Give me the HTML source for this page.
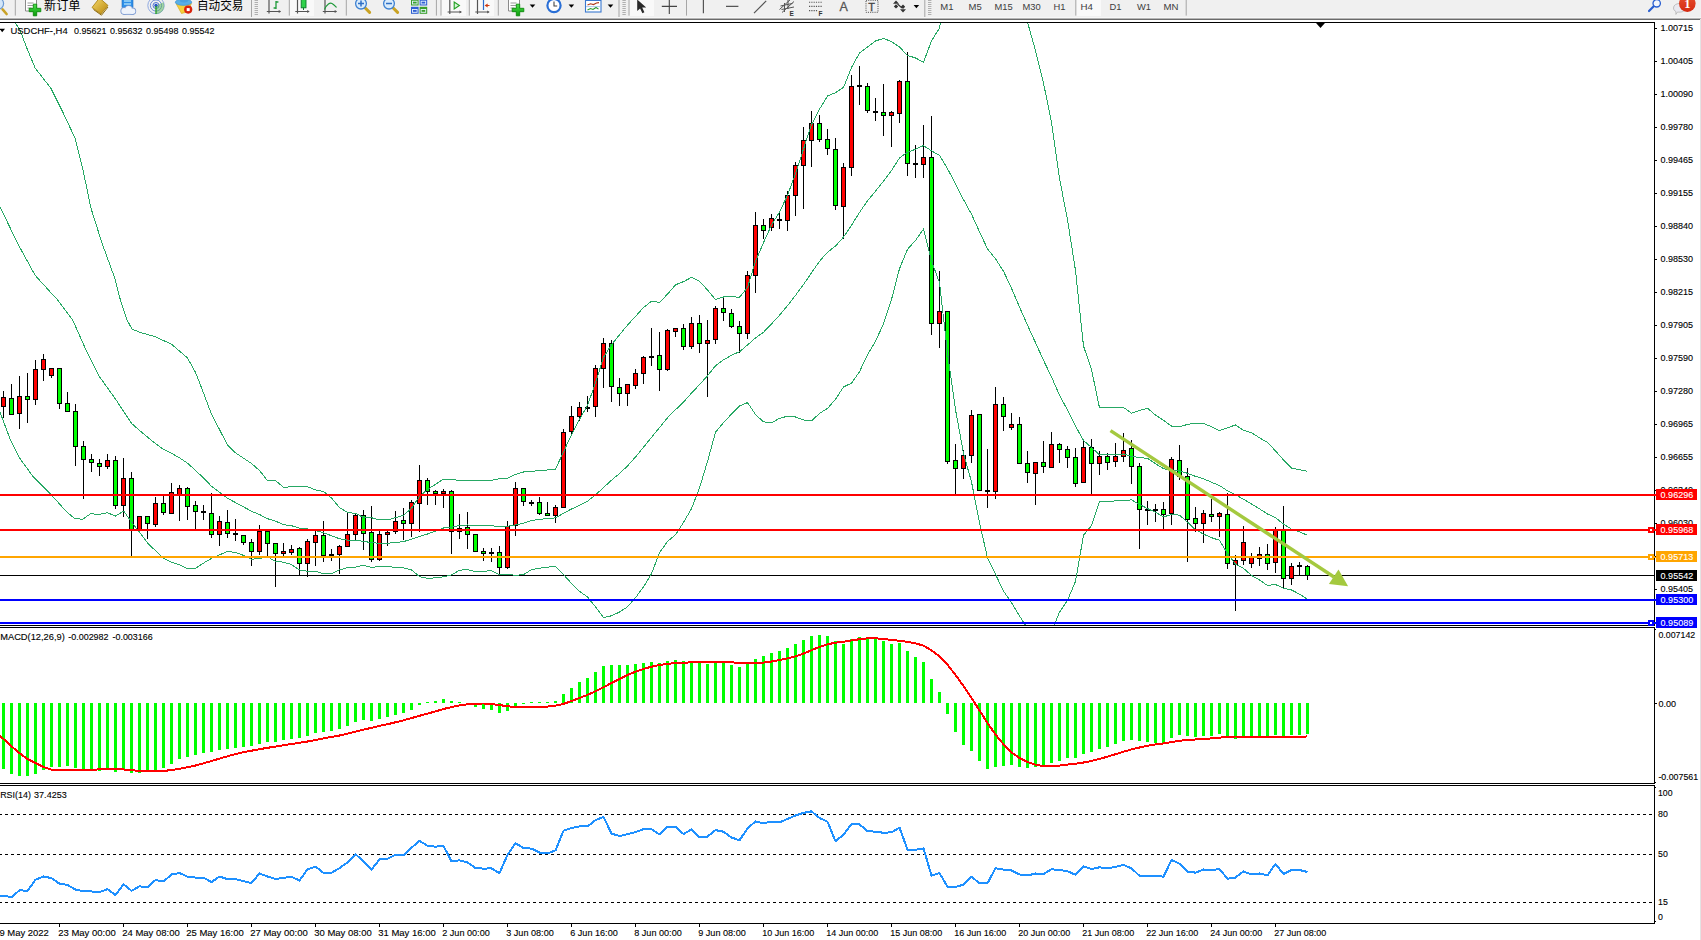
<!DOCTYPE html>
<html><head><meta charset="utf-8"><title>USDCHF-,H4</title>
<style>
html,body{margin:0;padding:0;background:#fff;}
body{width:1701px;height:940px;position:relative;overflow:hidden;font-family:"Liberation Sans","Noto Sans CJK SC",sans-serif;}
svg{display:block}
</style></head><body>
<svg width="1701" height="940" viewBox="0 0 1701 940" style="position:absolute;left:0;top:0" font-family="'Liberation Sans',sans-serif" font-size="9.6">
<defs><clipPath id="cm"><rect x="0" y="23" width="1654" height="602"/></clipPath></defs>
<g shape-rendering="crispEdges">
<rect x="0" y="575" width="1654" height="1" fill="#000"/>
<g clip-path="url(#cm)">
<path d="M3 391h1v27h-1zM1 397h5v10h-5zM11 384h1v31h-1zM9 398h5v17h-5zM19 376h1v53h-1zM17 396h5v18h-5zM27 373h1v50h-1zM25 396h5v4h-5zM35 360h1v45h-1zM33 369h5v31h-5zM43 354h1v27h-1zM41 359h5v11h-5zM51 368h1v10h-1zM49 368h5v8h-5zM59 368h1v41h-1zM57 368h5v36h-5zM67 392h1v20h-1zM65 403h5v9h-5zM75 404h1v62h-1zM73 411h5v36h-5zM83 441h1v58h-1zM81 446h5v14h-5zM91 454h1v18h-1zM89 459h5v4h-5zM99 459h1v17h-1zM97 463h5v4h-5zM107 454h1v15h-1zM105 460h5v7h-5zM115 456h1v53h-1zM113 460h5v46h-5zM123 458h1v59h-1zM121 478h5v28h-5zM131 472h1v84h-1zM129 478h5v52h-5zM139 516h1v17h-1zM137 516h5v14h-5zM147 516h1v23h-1zM145 516h5v8h-5zM155 497h1v30h-1zM153 503h5v22h-5zM163 496h1v19h-1zM161 503h5v10h-5zM171 483h1v31h-1zM169 492h5v22h-5zM179 485h1v36h-1zM177 488h5v7h-5zM187 487h1v33h-1zM185 488h5v19h-5zM195 501h1v28h-1zM193 505h5v7h-5zM203 505h1v15h-1zM201 511h5v2h-5zM211 493h1v45h-1zM209 513h5v22h-5zM219 516h1v30h-1zM217 521h5v14h-5zM227 510h1v28h-1zM225 522h5v12h-5zM235 519h1v22h-1zM233 533h5v2h-5zM243 535h1v10h-1zM241 535h5v8h-5zM251 539h1v27h-1zM249 542h5v10h-5zM259 525h1v30h-1zM257 531h5v21h-5zM267 531h1v25h-1zM265 531h5v13h-5zM275 543h1v44h-1zM273 543h5v11h-5zM283 543h1v13h-1zM281 551h5v3h-5zM291 545h1v10h-1zM289 549h5v4h-5zM299 547h1v29h-1zM297 548h5v16h-5zM307 539h1v38h-1zM305 541h5v23h-5zM315 531h1v35h-1zM313 535h5v8h-5zM323 521h1v41h-1zM321 535h5v21h-5zM331 549h1v12h-1zM329 554h5v2h-5zM339 545h1v29h-1zM337 546h5v9h-5zM347 513h1v34h-1zM345 534h5v13h-5zM355 513h1v28h-1zM353 515h5v20h-5zM363 510h1v40h-1zM361 515h5v19h-5zM371 506h1v56h-1zM369 532h5v28h-5zM379 531h1v30h-1zM377 534h5v26h-5zM387 531h1v15h-1zM385 532h5v3h-5zM395 511h1v23h-1zM393 521h5v11h-5zM403 508h1v32h-1zM401 520h5v4h-5zM411 500h1v37h-1zM409 502h5v22h-5zM419 465h1v67h-1zM417 480h5v24h-5zM427 478h1v27h-1zM425 480h5v12h-5zM435 490h1v15h-1zM433 491h5v3h-5zM443 489h1v19h-1zM441 491h5v3h-5zM451 490h1v64h-1zM449 491h5v41h-5zM459 514h1v25h-1zM457 528h5v4h-5zM467 512h1v37h-1zM465 527h5v8h-5zM475 534h1v18h-1zM473 534h5v18h-5zM483 548h1v13h-1zM481 551h5v3h-5zM491 548h1v14h-1zM489 552h5v2h-5zM499 546h1v29h-1zM497 552h5v16h-5zM507 521h1v48h-1zM505 526h5v42h-5zM515 482h1v54h-1zM513 488h5v38h-5zM523 488h1v18h-1zM521 488h5v14h-5zM531 500h1v6h-1zM529 502h5v2h-5zM539 497h1v18h-1zM537 502h5v12h-5zM547 502h1v14h-1zM545 513h5v3h-5zM555 505h1v18h-1zM553 507h5v9h-5zM563 429h1v79h-1zM561 432h5v76h-5zM571 406h1v28h-1zM569 416h5v16h-5zM579 402h1v19h-1zM577 407h5v10h-5zM587 396h1v16h-1zM585 407h5v2h-5zM595 365h1v52h-1zM593 368h5v39h-5zM603 338h1v50h-1zM601 343h5v26h-5zM611 340h1v62h-1zM609 343h5v44h-5zM619 378h1v28h-1zM617 387h5v7h-5zM627 384h1v22h-1zM625 384h5v10h-5zM635 369h1v20h-1zM633 373h5v13h-5zM643 356h1v28h-1zM641 357h5v17h-5zM651 328h1v38h-1zM649 356h5v2h-5zM659 332h1v59h-1zM657 355h5v15h-5zM667 329h1v42h-1zM665 330h5v40h-5zM675 328h1v9h-1zM673 328h5v4h-5zM683 324h1v26h-1zM681 328h5v19h-5zM691 317h1v32h-1zM689 323h5v24h-5zM699 315h1v38h-1zM697 323h5v21h-5zM707 320h1v77h-1zM705 340h5v4h-5zM715 306h1v38h-1zM713 308h5v32h-5zM723 297h1v24h-1zM721 308h5v5h-5zM731 309h1v19h-1zM729 313h5v14h-5zM739 321h1v32h-1zM737 326h5v8h-5zM747 271h1v68h-1zM745 275h5v59h-5zM755 212h1v81h-1zM753 225h5v51h-5zM763 219h1v20h-1zM761 225h5v6h-5zM771 214h1v17h-1zM769 218h5v10h-5zM779 213h1v16h-1zM777 219h5v2h-5zM787 191h1v40h-1zM785 195h5v26h-5zM795 162h1v54h-1zM793 165h5v31h-5zM803 127h1v82h-1zM801 140h5v26h-5zM811 111h1v56h-1zM809 123h5v18h-5zM819 115h1v27h-1zM817 123h5v17h-5zM827 129h1v26h-1zM825 139h5v10h-5zM835 138h1v72h-1zM833 149h5v57h-5zM843 163h1v76h-1zM841 167h5v40h-5zM851 75h1v101h-1zM849 86h5v82h-5zM859 66h1v39h-1zM857 85h5v2h-5zM867 83h1v30h-1zM865 86h5v25h-5zM875 98h1v23h-1zM873 111h5v2h-5zM883 84h1v52h-1zM881 112h5v4h-5zM891 111h1v36h-1zM889 112h5v4h-5zM899 80h1v43h-1zM897 81h5v33h-5zM907 52h1v124h-1zM905 81h5v83h-5zM915 145h1v33h-1zM913 163h5v2h-5zM923 125h1v53h-1zM921 157h5v8h-5zM931 116h1v219h-1zM929 157h5v167h-5zM939 271h1v77h-1zM937 311h5v13h-5zM947 311h1v153h-1zM945 311h5v151h-5zM955 444h1v50h-1zM953 460h5v9h-5zM963 450h1v29h-1zM961 455h5v14h-5zM971 410h1v53h-1zM969 415h5v41h-5zM979 414h1v77h-1zM977 414h5v77h-5zM987 449h1v59h-1zM985 490h5v2h-5zM995 387h1v112h-1zM993 404h5v88h-5zM1003 397h1v34h-1zM1001 404h5v13h-5zM1011 413h1v17h-1zM1009 424h5v4h-5zM1019 417h1v47h-1zM1017 424h5v40h-5zM1027 451h1v32h-1zM1025 463h5v10h-5zM1035 462h1v43h-1zM1033 462h5v12h-5zM1043 441h1v32h-1zM1041 462h5v5h-5zM1051 432h1v36h-1zM1049 444h5v24h-5zM1059 443h1v20h-1zM1057 444h5v6h-5zM1067 446h1v22h-1zM1065 449h5v9h-5zM1075 448h1v39h-1zM1073 457h5v27h-5zM1083 439h1v44h-1zM1081 447h5v36h-5zM1091 439h1v55h-1zM1089 447h5v17h-5zM1099 451h1v24h-1zM1097 456h5v8h-5zM1107 453h1v17h-1zM1105 456h5v7h-5zM1115 443h1v24h-1zM1113 456h5v6h-5zM1123 433h1v29h-1zM1121 450h5v7h-5zM1131 440h1v44h-1zM1129 448h5v19h-5zM1139 463h1v86h-1zM1137 466h5v44h-5zM1147 501h1v24h-1zM1145 509h5v2h-5zM1155 504h1v18h-1zM1153 509h5v2h-5zM1163 502h1v27h-1zM1161 509h5v6h-5zM1171 457h1v68h-1zM1169 459h5v55h-5zM1179 445h1v35h-1zM1177 460h5v17h-5zM1187 468h1v94h-1zM1185 476h5v44h-5zM1195 507h1v25h-1zM1193 518h5v6h-5zM1203 510h1v33h-1zM1201 513h5v11h-5zM1211 499h1v23h-1zM1209 514h5v3h-5zM1219 512h1v25h-1zM1217 513h5v4h-5zM1227 493h1v76h-1zM1225 514h5v50h-5zM1235 555h1v56h-1zM1233 560h5v5h-5zM1243 526h1v39h-1zM1241 542h5v19h-5zM1251 553h1v15h-1zM1249 557h5v7h-5zM1259 547h1v19h-1zM1257 554h5v5h-5zM1267 544h1v26h-1zM1265 554h5v10h-5zM1275 527h1v46h-1zM1273 530h5v33h-5zM1283 506h1v83h-1zM1281 530h5v49h-5zM1291 563h1v22h-1zM1289 566h5v13h-5zM1299 562h1v14h-1zM1297 565h5v2h-5zM1307 565h1v15h-1zM1305 566h5v10h-5z" fill="#000"/>
<path d="M2 398h3v8h-3zM18 397h3v16h-3zM34 370h3v29h-3zM42 360h3v9h-3zM50 369h3v6h-3zM106 461h3v5h-3zM122 479h3v26h-3zM138 517h3v12h-3zM154 504h3v20h-3zM170 493h3v20h-3zM178 489h3v5h-3zM218 522h3v12h-3zM258 532h3v19h-3zM282 552h3v1h-3zM290 550h3v2h-3zM306 542h3v21h-3zM314 536h3v6h-3zM338 547h3v7h-3zM346 535h3v11h-3zM354 516h3v18h-3zM378 535h3v24h-3zM386 533h3v1h-3zM394 522h3v9h-3zM410 503h3v20h-3zM418 481h3v22h-3zM442 492h3v1h-3zM458 529h3v2h-3zM506 527h3v40h-3zM514 489h3v36h-3zM554 508h3v7h-3zM562 433h3v74h-3zM570 417h3v14h-3zM578 408h3v8h-3zM594 369h3v37h-3zM602 344h3v24h-3zM626 385h3v8h-3zM634 374h3v11h-3zM642 358h3v15h-3zM666 331h3v38h-3zM674 329h3v2h-3zM690 324h3v22h-3zM706 341h3v2h-3zM714 309h3v30h-3zM746 276h3v57h-3zM754 226h3v49h-3zM770 219h3v8h-3zM786 196h3v24h-3zM794 166h3v29h-3zM802 141h3v24h-3zM810 124h3v16h-3zM842 168h3v38h-3zM850 87h3v80h-3zM890 113h3v2h-3zM898 82h3v31h-3zM922 158h3v6h-3zM938 312h3v11h-3zM962 456h3v12h-3zM970 416h3v39h-3zM994 405h3v86h-3zM1010 425h3v2h-3zM1034 463h3v10h-3zM1050 445h3v22h-3zM1082 448h3v34h-3zM1098 457h3v6h-3zM1114 457h3v4h-3zM1122 451h3v5h-3zM1170 460h3v53h-3zM1202 514h3v9h-3zM1218 514h3v2h-3zM1234 561h3v3h-3zM1242 543h3v17h-3zM1250 558h3v5h-3zM1258 555h3v3h-3zM1274 531h3v31h-3zM1290 567h3v11h-3z" fill="#f00"/>
<path d="M10 399h3v15h-3zM26 397h3v2h-3zM58 369h3v34h-3zM66 404h3v7h-3zM74 412h3v34h-3zM82 447h3v12h-3zM90 460h3v2h-3zM98 464h3v2h-3zM114 461h3v44h-3zM130 479h3v50h-3zM146 517h3v6h-3zM162 504h3v8h-3zM186 489h3v17h-3zM194 506h3v5h-3zM210 514h3v20h-3zM226 523h3v10h-3zM242 536h3v6h-3zM250 543h3v8h-3zM266 532h3v11h-3zM274 544h3v9h-3zM298 549h3v14h-3zM322 536h3v19h-3zM362 516h3v17h-3zM370 533h3v26h-3zM402 521h3v2h-3zM426 481h3v10h-3zM434 492h3v1h-3zM450 492h3v39h-3zM466 528h3v6h-3zM474 535h3v16h-3zM482 552h3v1h-3zM498 553h3v14h-3zM522 489h3v12h-3zM538 503h3v10h-3zM546 514h3v1h-3zM610 344h3v42h-3zM618 388h3v5h-3zM658 356h3v13h-3zM682 329h3v17h-3zM698 324h3v19h-3zM722 309h3v3h-3zM730 314h3v12h-3zM738 327h3v6h-3zM762 226h3v4h-3zM818 124h3v15h-3zM826 140h3v8h-3zM834 150h3v55h-3zM866 87h3v23h-3zM882 113h3v2h-3zM906 82h3v81h-3zM930 158h3v165h-3zM946 312h3v149h-3zM954 461h3v7h-3zM978 415h3v75h-3zM1002 405h3v11h-3zM1018 425h3v38h-3zM1026 464h3v8h-3zM1042 463h3v3h-3zM1058 445h3v4h-3zM1066 450h3v7h-3zM1074 458h3v25h-3zM1090 448h3v15h-3zM1106 457h3v5h-3zM1130 449h3v17h-3zM1138 467h3v42h-3zM1162 510h3v4h-3zM1178 461h3v15h-3zM1186 477h3v42h-3zM1194 519h3v4h-3zM1210 515h3v1h-3zM1226 515h3v48h-3zM1266 555h3v8h-3zM1282 531h3v47h-3zM1306 567h3v8h-3z" fill="#0f0"/>
<polyline points="10,12 15.3,23.2 19.8,29.6 27.1,48.7 35.1,67.9 51.1,88.6 63.8,114.2 75,138.1 83,170 91,208.3 102.1,243.4 114.9,278.5 120.4,300 127,319.8 131.9,329 141.8,333 155.5,336.6 163.5,340.6 171.5,344.2 179.5,351.1 187.5,357.9 195.5,372.4 203.5,392.9 211.5,414.3 219.5,429.5 227.5,445.1 235.5,452.9 243.5,458.2 251.5,463.4 259.5,470.5 267.5,480.6 275.5,480.6 283.5,487.3 291.5,486.8 299.5,486.1 307.5,486.7 315.5,489.9 323.5,491.5 331.5,498 339.5,507.6 347.5,512.5 355.5,513.4 363.5,517.5 371.5,517.7 379.5,520 387.5,519.9 395.5,517.7 403.5,515.4 411.5,508.3 419.5,496.5 427.5,489.5 435.5,484.3 443.5,479.2 451.5,479.3 459.5,480.5 467.5,480.6 475.5,480.1 483.5,480.2 491.5,480.4 499.5,478.7 507.5,478.4 515.5,474.4 523.5,472 531.5,471.3 539.5,470.6 547.5,470 555.5,469.1 563.5,452 571.5,434.6 579.5,419.4 587.5,405.4 595.5,382.9 603.5,357.4 611.5,344.7 619.5,334.8 627.5,325.1 635.5,316.4 643.5,307.5 651.5,301.3 659.5,302.3 667.5,294.2 675.5,284.8 683.5,281.6 691.5,277.4 699.5,281.2 707.5,290 715.5,299.5 723.5,297 731.5,296.6 739.5,297.3 747.5,287.5 755.5,261.3 763.5,242.6 771.5,225.1 779.5,212 787.5,195.3 795.5,173.7 803.5,149 811.5,124.6 819.5,109.2 827.5,96 835.5,92.7 843.5,87.4 851.5,67.4 859.5,53.1 867.5,47.1 875.5,40.9 883.5,38.5 891.5,41.5 899.5,47.1 907.5,55.4 915.5,58 923.5,62.2 931.5,40.8 939.5,28 947.5,-15.5 955.5,-42 963.5,-54.1 971.5,-53.5 979.5,-59.1 987.5,-60.1 995.5,-56.7 1003.5,-48.4 1011.5,-26.3 1019.5,-1.9 1027.5,22 1035.5,50.6 1043.5,83.1 1051.5,122.3 1059.5,178.4 1067.5,219.8 1075.5,270.6 1083.5,346 1091.5,369.4 1099.5,407.9 1107.5,407.9 1115.5,407.7 1123.5,407.4 1131.5,413.2 1139.5,410.5 1147.5,408.2 1155.5,415.1 1163.5,420.2 1171.5,426.1 1179.5,426.8 1187.5,424.4 1195.5,423.1 1203.5,423.3 1211.5,426.8 1219.5,430.6 1227.5,427.8 1235.5,424.9 1243.5,430.3 1251.5,432.7 1259.5,437.8 1267.5,442.4 1275.5,450.9 1283.5,459.9 1291.5,468.2 1299.5,469.7 1307.5,471.2" fill="none" stroke="#26a864" stroke-width="1"/>
<polyline points="0,206.7 17.6,243.4 35.1,275.3 51.1,292.9 57.7,300 72.6,319.8 85.8,349.5 98.9,375.9 115.4,398.9 131.9,423.7 145.1,435.2 155.5,443.6 163.5,449.4 171.5,453.3 179.5,457.9 187.5,463.2 195.5,470.4 203.5,478 211.5,486.3 219.5,492.2 227.5,498.3 235.5,502.6 243.5,506.8 251.5,511.3 259.5,514.5 267.5,518.7 275.5,521.1 283.5,524.7 291.5,525.7 299.5,528.1 307.5,529 315.5,530.6 323.5,532.7 331.5,535.8 339.5,538.7 347.5,540.1 355.5,540.3 363.5,541.4 371.5,542.6 379.5,543.3 387.5,543.2 395.5,542.6 403.5,541.6 411.5,539.2 419.5,536.6 427.5,534 435.5,531 443.5,528 451.5,527.1 459.5,525.4 467.5,525 475.5,525.8 483.5,525.7 491.5,525.6 499.5,526.7 507.5,526.2 515.5,524.9 523.5,523.3 531.5,520.5 539.5,519.4 547.5,518.6 555.5,517.9 563.5,513.3 571.5,509 579.5,505.4 587.5,501.2 595.5,494.9 603.5,487.5 611.5,480.2 619.5,473.5 627.5,466 635.5,457 643.5,447.2 651.5,437.4 659.5,427.6 667.5,417.8 675.5,409.8 683.5,402 691.5,393.1 699.5,384.6 707.5,375.8 715.5,365.8 723.5,359.8 731.5,355.3 739.5,351.7 747.5,345 755.5,337.9 763.5,332.3 771.5,323.9 779.5,315.2 787.5,305.7 795.5,295.4 803.5,284.5 811.5,272.8 819.5,261.3 827.5,252.2 835.5,246.1 843.5,237.1 851.5,225.3 859.5,212.4 867.5,200.9 875.5,191.1 883.5,181.2 891.5,170.5 899.5,157.9 907.5,152.3 915.5,149.2 923.5,145.6 931.5,150.8 939.5,155.4 947.5,168.7 955.5,183.8 963.5,199.6 971.5,214.2 979.5,231.8 987.5,248.9 995.5,258.8 1003.5,271.3 1011.5,288.2 1019.5,307.1 1027.5,325.2 1035.5,342.7 1043.5,360.3 1051.5,376.9 1059.5,395.3 1067.5,410 1075.5,426 1083.5,440.5 1091.5,447.5 1099.5,454.8 1107.5,454.9 1115.5,454.2 1123.5,454 1131.5,456.5 1139.5,457.5 1147.5,458.4 1155.5,463.7 1163.5,468.6 1171.5,470.3 1179.5,471 1187.5,473.3 1195.5,476.4 1203.5,478.7 1211.5,482.3 1219.5,485.5 1227.5,490.8 1235.5,494.6 1243.5,499.3 1251.5,504 1259.5,508.9 1267.5,514 1275.5,517.7 1283.5,524.1 1291.5,529.1 1299.5,531.9 1307.5,535.2" fill="none" stroke="#26a864" stroke-width="1"/>
<polyline points="0,412.1 9.9,438.5 19.8,458.3 33,476.5 49.5,492.9 66,511.1 74.2,518.3 82.5,519.3 90.7,513.7 98.9,514.4 107.2,512.7 115.4,516 123.7,511.1 130.3,520.3 138.5,530.9 148.4,544.1 155.5,550.6 163.5,558.2 171.5,562.4 179.5,564.7 187.5,568.6 195.5,568.3 203.5,563.1 211.5,558.4 219.5,554.9 227.5,551.5 235.5,552.4 243.5,555.4 251.5,559.2 259.5,558.5 267.5,556.7 275.5,561.5 283.5,562.1 291.5,564.6 299.5,570 307.5,571.2 315.5,571.2 323.5,573.9 331.5,573.7 339.5,569.9 347.5,567.7 355.5,567.2 363.5,565.2 371.5,567.5 379.5,566.5 387.5,566.5 395.5,567.4 403.5,567.8 411.5,570 419.5,576.6 427.5,578.4 435.5,577.8 443.5,576.8 451.5,574.9 459.5,570.2 467.5,569.5 475.5,571.6 483.5,571.2 491.5,570.8 499.5,574.6 507.5,574.1 515.5,575.4 523.5,574.6 531.5,569.7 539.5,568.3 547.5,567.1 555.5,566.6 563.5,574.6 571.5,583.4 579.5,591.3 587.5,597 595.5,606.9 603.5,617.6 611.5,615.8 619.5,612.1 627.5,606.8 635.5,597.7 643.5,587 651.5,573.6 659.5,552.8 667.5,541.4 675.5,534.8 683.5,522.4 691.5,508.7 699.5,487.9 707.5,461.5 715.5,432.2 723.5,422.7 731.5,414.1 739.5,406 747.5,402.6 755.5,414.5 763.5,421.9 771.5,422.7 779.5,418.4 787.5,416.2 795.5,417 803.5,420 811.5,421 819.5,413.4 827.5,408.4 835.5,399.4 843.5,386.9 851.5,383.2 859.5,371.7 867.5,354.7 875.5,341.2 883.5,323.9 891.5,299.5 899.5,268.7 907.5,249.3 915.5,240.4 923.5,229 931.5,260.9 939.5,282.7 947.5,352.8 955.5,409.7 963.5,453.3 971.5,481.9 979.5,522.6 987.5,557.9 995.5,574.3 1003.5,591 1011.5,602.7 1019.5,616 1027.5,628.3 1035.5,634.8 1043.5,637.5 1051.5,631.6 1059.5,612.2 1067.5,600.3 1075.5,581.4 1083.5,535.1 1091.5,525.7 1099.5,501.7 1107.5,501.8 1115.5,500.8 1123.5,500.6 1131.5,499.9 1139.5,504.4 1147.5,508.6 1155.5,512.2 1163.5,516.9 1171.5,514.5 1179.5,515.1 1187.5,522.2 1195.5,529.7 1203.5,534.1 1211.5,537.7 1219.5,540.3 1227.5,553.7 1235.5,564.2 1243.5,568.4 1251.5,575.4 1259.5,580 1267.5,585.5 1275.5,584.5 1283.5,588.3 1291.5,590 1299.5,594.1 1307.5,599.2" fill="none" stroke="#26a864" stroke-width="1"/>
</g>
</g>
<g shape-rendering="crispEdges">
<rect x="0" y="22" width="1655" height="1" fill="#000"/>
<rect x="0" y="625" width="1655" height="1" fill="#000"/>
<rect x="0" y="627" width="1655" height="1" fill="#000"/>
<rect x="0" y="783" width="1655" height="1" fill="#000"/>
<rect x="0" y="785" width="1655" height="1" fill="#000"/>
<rect x="0" y="923" width="1655" height="1" fill="#000"/>
<rect x="1654" y="22" width="1" height="604" fill="#000"/>
<rect x="1654" y="627" width="1" height="157" fill="#000"/>
<rect x="1654" y="785" width="1" height="139" fill="#000"/>
<rect x="1655" y="629" width="1" height="1" fill="#000"/>
<rect x="1655" y="782" width="1" height="1" fill="#000"/>
<rect x="1655" y="787" width="1" height="1" fill="#000"/>
<rect x="1655" y="921" width="1" height="1" fill="#000"/>
<rect x="0" y="494" width="1656" height="2" fill="#f00"/>
<rect x="0" y="529" width="1656" height="2" fill="#f00"/>
<rect x="0" y="556" width="1656" height="2" fill="#ffa500"/>
<rect x="0" y="599" width="1656" height="2" fill="#00f"/>
<rect x="0" y="622" width="1656" height="2" fill="#00f"/>
<rect x="1648" y="527" width="6" height="6" fill="#f00"/><rect x="1650" y="529" width="2" height="2" fill="#fff"/>
<rect x="1648" y="554" width="6" height="6" fill="#ffa500"/><rect x="1650" y="556" width="2" height="2" fill="#fff"/>
<rect x="1648" y="620" width="6" height="6" fill="#00f"/><rect x="1650" y="622" width="2" height="2" fill="#fff"/>
</g>
<line x1="1110.5" y1="430.6" x2="1334" y2="577" stroke="#a4c93f" stroke-width="3.4"/>
<polygon points="1348.1,586.2 1338.5,569.6 1328.9,584" fill="#a4c93f"/>
<polygon points="1315.6,22.5 1325.4,22.5 1320.5,28" fill="#000"/>
<rect x="1655" y="28" width="2" height="1" fill="#000" shape-rendering="crispEdges"/>
<text dy="-0.5" stroke-width="0.12" stroke="#000" x="1660.4" y="31.9" textLength="32.6" lengthAdjust="spacingAndGlyphs">1.00715</text>
<rect x="1655" y="61" width="2" height="1" fill="#000" shape-rendering="crispEdges"/>
<text dy="-0.5" stroke-width="0.12" stroke="#000" x="1660.4" y="64.9" textLength="32.6" lengthAdjust="spacingAndGlyphs">1.00405</text>
<rect x="1655" y="94" width="2" height="1" fill="#000" shape-rendering="crispEdges"/>
<text dy="-0.5" stroke-width="0.12" stroke="#000" x="1660.4" y="97.9" textLength="32.6" lengthAdjust="spacingAndGlyphs">1.00090</text>
<rect x="1655" y="127" width="2" height="1" fill="#000" shape-rendering="crispEdges"/>
<text dy="-0.5" stroke-width="0.12" stroke="#000" x="1660.4" y="130.9" textLength="32.6" lengthAdjust="spacingAndGlyphs">0.99780</text>
<rect x="1655" y="160" width="2" height="1" fill="#000" shape-rendering="crispEdges"/>
<text dy="-0.5" stroke-width="0.12" stroke="#000" x="1660.4" y="163.9" textLength="32.6" lengthAdjust="spacingAndGlyphs">0.99465</text>
<rect x="1655" y="193" width="2" height="1" fill="#000" shape-rendering="crispEdges"/>
<text dy="-0.5" stroke-width="0.12" stroke="#000" x="1660.4" y="196.9" textLength="32.6" lengthAdjust="spacingAndGlyphs">0.99155</text>
<rect x="1655" y="226" width="2" height="1" fill="#000" shape-rendering="crispEdges"/>
<text dy="-0.5" stroke-width="0.12" stroke="#000" x="1660.4" y="229.9" textLength="32.6" lengthAdjust="spacingAndGlyphs">0.98840</text>
<rect x="1655" y="259" width="2" height="1" fill="#000" shape-rendering="crispEdges"/>
<text dy="-0.5" stroke-width="0.12" stroke="#000" x="1660.4" y="262.9" textLength="32.6" lengthAdjust="spacingAndGlyphs">0.98530</text>
<rect x="1655" y="292" width="2" height="1" fill="#000" shape-rendering="crispEdges"/>
<text dy="-0.5" stroke-width="0.12" stroke="#000" x="1660.4" y="295.9" textLength="32.6" lengthAdjust="spacingAndGlyphs">0.98215</text>
<rect x="1655" y="325" width="2" height="1" fill="#000" shape-rendering="crispEdges"/>
<text dy="-0.5" stroke-width="0.12" stroke="#000" x="1660.4" y="328.9" textLength="32.6" lengthAdjust="spacingAndGlyphs">0.97905</text>
<rect x="1655" y="358" width="2" height="1" fill="#000" shape-rendering="crispEdges"/>
<text dy="-0.5" stroke-width="0.12" stroke="#000" x="1660.4" y="361.9" textLength="32.6" lengthAdjust="spacingAndGlyphs">0.97590</text>
<rect x="1655" y="391" width="2" height="1" fill="#000" shape-rendering="crispEdges"/>
<text dy="-0.5" stroke-width="0.12" stroke="#000" x="1660.4" y="394.9" textLength="32.6" lengthAdjust="spacingAndGlyphs">0.97280</text>
<rect x="1655" y="424" width="2" height="1" fill="#000" shape-rendering="crispEdges"/>
<text dy="-0.5" stroke-width="0.12" stroke="#000" x="1660.4" y="427.9" textLength="32.6" lengthAdjust="spacingAndGlyphs">0.96965</text>
<rect x="1655" y="457" width="2" height="1" fill="#000" shape-rendering="crispEdges"/>
<text dy="-0.5" stroke-width="0.12" stroke="#000" x="1660.4" y="460.9" textLength="32.6" lengthAdjust="spacingAndGlyphs">0.96655</text>
<rect x="1655" y="490" width="2" height="1" fill="#000" shape-rendering="crispEdges"/>
<text dy="-0.5" stroke-width="0.12" stroke="#000" x="1660.4" y="493.9" textLength="32.6" lengthAdjust="spacingAndGlyphs">0.96340</text>
<rect x="1655" y="523" width="2" height="1" fill="#000" shape-rendering="crispEdges"/>
<text dy="-0.5" stroke-width="0.12" stroke="#000" x="1660.4" y="526.9" textLength="32.6" lengthAdjust="spacingAndGlyphs">0.96030</text>
<rect x="1655" y="556" width="2" height="1" fill="#000" shape-rendering="crispEdges"/>
<text dy="-0.5" stroke-width="0.12" stroke="#000" x="1660.4" y="559.9" textLength="32.6" lengthAdjust="spacingAndGlyphs">0.95715</text>
<rect x="1655" y="589" width="2" height="1" fill="#000" shape-rendering="crispEdges"/>
<text dy="-0.5" stroke-width="0.12" stroke="#000" x="1660.4" y="592.9" textLength="32.6" lengthAdjust="spacingAndGlyphs">0.95405</text>
<rect x="1656" y="489" width="41" height="11" fill="#f00" shape-rendering="crispEdges"/>
<text dy="-0.5" stroke-width="0.12" stroke="#fff" x="1660.6" y="498" fill="#fff" textLength="32.6" lengthAdjust="spacingAndGlyphs">0.96296</text>
<rect x="1656" y="524" width="41" height="11" fill="#f00" shape-rendering="crispEdges"/>
<text dy="-0.5" stroke-width="0.12" stroke="#fff" x="1660.6" y="533" fill="#fff" textLength="32.6" lengthAdjust="spacingAndGlyphs">0.95968</text>
<rect x="1656" y="551" width="41" height="11" fill="#ffa500" shape-rendering="crispEdges"/>
<text dy="-0.5" stroke-width="0.12" stroke="#fff" x="1660.6" y="560" fill="#fff" textLength="32.6" lengthAdjust="spacingAndGlyphs">0.95713</text>
<rect x="1656" y="570" width="41" height="11" fill="#000" shape-rendering="crispEdges"/>
<text dy="-0.5" stroke-width="0.12" stroke="#fff" x="1660.6" y="579" fill="#fff" textLength="32.6" lengthAdjust="spacingAndGlyphs">0.95542</text>
<rect x="1656" y="594" width="41" height="11" fill="#00f" shape-rendering="crispEdges"/>
<text dy="-0.5" stroke-width="0.12" stroke="#fff" x="1660.6" y="603" fill="#fff" textLength="32.6" lengthAdjust="spacingAndGlyphs">0.95300</text>
<rect x="1656" y="617" width="41" height="11" fill="#00f" shape-rendering="crispEdges"/>
<text dy="-0.5" stroke-width="0.12" stroke="#fff" x="1660.6" y="626" fill="#fff" textLength="32.6" lengthAdjust="spacingAndGlyphs">0.95089</text>
<polygon points="-0.5,28.7 5,28.7 2.2,32.3" fill="#000"/>
<text dy="-0.5" stroke-width="0.12" stroke="#000" x="10.5" y="34.1" textLength="57.2" lengthAdjust="spacingAndGlyphs">USDCHF-,H4</text>
<text dy="-0.5" stroke-width="0.12" stroke="#000" x="74.1" y="34.1" textLength="32.4" lengthAdjust="spacingAndGlyphs">0.95621</text>
<text dy="-0.5" stroke-width="0.12" stroke="#000" x="110.1" y="34.1" textLength="32.4" lengthAdjust="spacingAndGlyphs">0.95632</text>
<text dy="-0.5" stroke-width="0.12" stroke="#000" x="146.1" y="34.1" textLength="32.4" lengthAdjust="spacingAndGlyphs">0.95498</text>
<text dy="-0.5" stroke-width="0.12" stroke="#000" x="182.1" y="34.1" textLength="32.4" lengthAdjust="spacingAndGlyphs">0.95542</text>
<g shape-rendering="crispEdges">
<path d="M2 703h3v66h-3zM10 703h3v71h-3zM18 703h3v73h-3zM26 703h3v73h-3zM34 703h3v71h-3zM42 703h3v67h-3zM50 703h3v64h-3zM58 703h3v64h-3zM66 703h3v63h-3zM74 703h3v65h-3zM82 703h3v67h-3zM90 703h3v68h-3zM98 703h3v68h-3zM106 703h3v67h-3zM114 703h3v69h-3zM122 703h3v67h-3zM130 703h3v70h-3zM138 703h3v70h-3zM146 703h3v69h-3zM154 703h3v67h-3zM162 703h3v65h-3zM170 703h3v61h-3zM178 703h3v56h-3zM186 703h3v54h-3zM194 703h3v52h-3zM202 703h3v50h-3zM210 703h3v49h-3zM218 703h3v47h-3zM226 703h3v46h-3zM234 703h3v45h-3zM242 703h3v44h-3zM250 703h3v43h-3zM258 703h3v41h-3zM266 703h3v39h-3zM274 703h3v39h-3zM282 703h3v37h-3zM290 703h3v36h-3zM298 703h3v35h-3zM306 703h3v33h-3zM314 703h3v30h-3zM322 703h3v29h-3zM330 703h3v28h-3zM338 703h3v26h-3zM346 703h3v23h-3zM354 703h3v19h-3zM362 703h3v17h-3zM370 703h3v18h-3zM378 703h3v16h-3zM386 703h3v14h-3zM394 703h3v12h-3zM402 703h3v10h-3zM410 703h3v7h-3zM418 703h3v2h-3zM426 702h3v1h-3zM434 701h3v2h-3zM442 699h3v4h-3zM450 701h3v2h-3zM458 702h3v1h-3zM466 703h3v1h-3zM474 703h3v4h-3zM482 703h3v6h-3zM490 703h3v7h-3zM498 703h3v10h-3zM506 703h3v8h-3zM514 703h3v4h-3zM522 703h3v1h-3zM530 702h3v1h-3zM538 702h3v1h-3zM546 702h3v1h-3zM554 701h3v2h-3zM562 694h3v9h-3zM570 688h3v15h-3zM578 682h3v21h-3zM586 678h3v25h-3zM594 672h3v31h-3zM602 666h3v37h-3zM610 665h3v38h-3zM618 665h3v38h-3zM626 665h3v38h-3zM634 664h3v39h-3zM642 663h3v40h-3zM650 662h3v41h-3zM658 663h3v40h-3zM666 661h3v42h-3zM674 660h3v43h-3zM682 661h3v42h-3zM690 661h3v42h-3zM698 662h3v41h-3zM706 664h3v39h-3zM714 663h3v40h-3zM722 663h3v40h-3zM730 665h3v38h-3zM738 667h3v36h-3zM746 664h3v39h-3zM754 659h3v44h-3zM762 656h3v47h-3zM770 653h3v50h-3zM778 651h3v52h-3zM786 648h3v55h-3zM794 644h3v59h-3zM802 640h3v63h-3zM810 636h3v67h-3zM818 635h3v68h-3zM826 636h3v67h-3zM834 641h3v62h-3zM842 644h3v59h-3zM850 639h3v64h-3zM858 637h3v66h-3zM866 638h3v65h-3zM874 639h3v64h-3zM882 641h3v62h-3zM890 644h3v59h-3zM898 643h3v60h-3zM906 651h3v52h-3zM914 657h3v46h-3zM922 662h3v41h-3zM930 679h3v24h-3zM938 692h3v11h-3zM946 703h3v11h-3zM954 703h3v29h-3zM962 703h3v42h-3zM970 703h3v48h-3zM978 703h3v58h-3zM986 703h3v66h-3zM994 703h3v64h-3zM1002 703h3v63h-3zM1010 703h3v62h-3zM1018 703h3v64h-3zM1026 703h3v65h-3zM1034 703h3v64h-3zM1042 703h3v63h-3zM1050 703h3v60h-3zM1058 703h3v58h-3zM1066 703h3v55h-3zM1074 703h3v55h-3zM1082 703h3v51h-3zM1090 703h3v49h-3zM1098 703h3v46h-3zM1106 703h3v44h-3zM1114 703h3v41h-3zM1122 703h3v38h-3zM1130 703h3v37h-3zM1138 703h3v38h-3zM1146 703h3v39h-3zM1154 703h3v40h-3zM1162 703h3v40h-3zM1170 703h3v35h-3zM1178 703h3v32h-3zM1186 703h3v33h-3zM1194 703h3v34h-3zM1202 703h3v33h-3zM1210 703h3v33h-3zM1218 703h3v31h-3zM1226 703h3v34h-3zM1234 703h3v36h-3zM1242 703h3v35h-3zM1250 703h3v35h-3zM1258 703h3v35h-3zM1266 703h3v35h-3zM1274 703h3v32h-3zM1282 703h3v33h-3zM1290 703h3v32h-3zM1298 703h3v32h-3zM1306 703h3v31h-3z" fill="#0f0"/>
<polyline points="0,736 3.5,739 11.5,746.2 19.5,753.2 27.5,759.1 35.5,763.1 43.5,766.9 51.5,769.7 59.5,769.7 67.5,770 75.5,770.3 83.5,770.2 91.5,769.9 99.5,769.3 107.5,768.9 115.5,769.1 123.5,769.5 131.5,770.2 139.5,770.9 147.5,771.3 155.5,771.3 163.5,770.9 171.5,770.1 179.5,768.9 187.5,767.2 195.5,765.5 203.5,763.3 211.5,761 219.5,758.6 227.5,756.3 235.5,754 243.5,752.2 251.5,750.7 259.5,749.2 267.5,747.8 275.5,746.6 283.5,745.3 291.5,744 299.5,742.8 307.5,741.5 315.5,740 323.5,738.4 331.5,736.9 339.5,735.5 347.5,733.7 355.5,731.7 363.5,729.7 371.5,727.8 379.5,725.9 387.5,724.2 395.5,722.3 403.5,720.3 411.5,718.1 419.5,715.8 427.5,713.6 435.5,711.4 443.5,709 451.5,707.1 459.5,705.4 467.5,704.3 475.5,703.6 483.5,703.5 491.5,704 499.5,705.1 507.5,706.2 515.5,707.1 523.5,707.4 531.5,707.4 539.5,707.1 547.5,706.6 555.5,705.7 563.5,703.9 571.5,701.1 579.5,698 587.5,694.8 595.5,691.3 603.5,687.2 611.5,683.1 619.5,679 627.5,675 635.5,671.7 643.5,668.9 651.5,666.7 659.5,665 667.5,663.8 675.5,663.2 683.5,662.8 691.5,662.3 699.5,662.1 707.5,662 715.5,662 723.5,662.1 731.5,662.3 739.5,662.9 747.5,663.4 755.5,663.1 763.5,662.6 771.5,661.5 779.5,660 787.5,658.4 795.5,656.4 803.5,653.6 811.5,650.2 819.5,646.9 827.5,644.3 835.5,642.7 843.5,641.7 851.5,640.4 859.5,639.2 867.5,638.4 875.5,638.3 883.5,638.9 891.5,639.9 899.5,640.8 907.5,641.8 915.5,643.3 923.5,645.7 931.5,650.4 939.5,656.4 947.5,664.8 955.5,674.9 963.5,686.1 971.5,698.1 979.5,710.4 987.5,722.9 995.5,734.6 1003.5,744.3 1011.5,752.4 1019.5,758.1 1027.5,762.1 1035.5,764.6 1043.5,766.3 1051.5,766.5 1059.5,765.6 1067.5,764.6 1075.5,763.7 1083.5,762.5 1091.5,761 1099.5,758.9 1107.5,756.7 1115.5,754.2 1123.5,751.7 1131.5,749.4 1139.5,747.5 1147.5,745.7 1155.5,744.4 1163.5,743.4 1171.5,742.1 1179.5,740.8 1187.5,739.9 1195.5,739.5 1203.5,739.1 1211.5,738.4 1219.5,737.6 1227.5,737 1235.5,736.5 1243.5,736.5 1251.5,736.8 1259.5,737 1267.5,737.1 1275.5,737 1283.5,737 1291.5,737.1 1299.5,736.9 1307.5,736.4" fill="none" stroke="#f00" stroke-width="2" stroke-linejoin="round"/>
<rect x="1655" y="703" width="2" height="1" fill="#000"/>
</g>
<text dy="-0.5" stroke-width="0.12" stroke="#000" x="0.2" y="640" textLength="64.6" lengthAdjust="spacingAndGlyphs">MACD(12,26,9)</text>
<text dy="-0.5" stroke-width="0.12" stroke="#000" x="68.2" y="640" textLength="40.4" lengthAdjust="spacingAndGlyphs">-0.002982</text>
<text dy="-0.5" stroke-width="0.12" stroke="#000" x="112.5" y="640" textLength="40.1" lengthAdjust="spacingAndGlyphs">-0.003166</text>
<text dy="-0.5" stroke-width="0.12" stroke="#000" x="1658.4" y="638.2" textLength="36.8" lengthAdjust="spacingAndGlyphs">0.007142</text>
<text dy="-0.5" stroke-width="0.12" stroke="#000" x="1658.4" y="707.2" textLength="17.6" lengthAdjust="spacingAndGlyphs">0.00</text>
<text dy="-0.5" stroke-width="0.12" stroke="#000" x="1658.4" y="780.5" textLength="39.8" lengthAdjust="spacingAndGlyphs">-0.007561</text>
<g shape-rendering="crispEdges">
<line x1="0" y1="814.5" x2="1654" y2="814.5" stroke="#000" stroke-width="1" stroke-dasharray="3 3" stroke-dashoffset="1"/>
<line x1="0" y1="854.5" x2="1654" y2="854.5" stroke="#000" stroke-width="1" stroke-dasharray="3 3" stroke-dashoffset="1"/>
<line x1="0" y1="902.5" x2="1654" y2="902.5" stroke="#000" stroke-width="1" stroke-dasharray="3 3" stroke-dashoffset="1"/>
<polyline points="0,896.3 3.5,895.6 11.5,897.1 19.5,890.3 27.5,890.8 35.5,879.8 43.5,876.5 51.5,878.1 59.5,883.7 67.5,884.9 75.5,889.6 83.5,891.1 91.5,891.5 99.5,892 107.5,889.2 115.5,895 123.5,884.3 131.5,890.8 139.5,886.3 147.5,887.2 155.5,880 163.5,881.5 171.5,874.5 179.5,873 187.5,876.7 195.5,877.6 203.5,877.7 211.5,882.1 219.5,876.6 227.5,879.1 235.5,879.2 243.5,881.2 251.5,883 259.5,873.5 267.5,876.5 275.5,878.9 283.5,877.9 291.5,876.8 299.5,880.5 307.5,869.4 315.5,866.6 323.5,872.8 331.5,872.7 339.5,868.1 347.5,862.4 355.5,854.3 363.5,861.2 371.5,869.5 379.5,859.5 387.5,858.8 395.5,854.7 403.5,855.4 411.5,847.7 419.5,840.9 427.5,845.7 435.5,846.7 443.5,845.9 451.5,861.4 459.5,860.3 467.5,862.4 475.5,868 483.5,868.6 491.5,868.4 499.5,873.2 507.5,854.8 515.5,843.1 523.5,848.1 531.5,848.6 539.5,852.6 547.5,853.3 555.5,850.4 563.5,830.8 571.5,828 579.5,826.4 587.5,826.5 595.5,820.1 603.5,816.8 611.5,833.6 619.5,836 627.5,834.2 635.5,832.1 643.5,829.2 651.5,829.1 659.5,834.4 667.5,826.9 675.5,826.6 683.5,834 691.5,829.5 699.5,837.3 707.5,836.6 715.5,830.1 723.5,831.7 731.5,837.5 739.5,840.3 747.5,828.4 755.5,821.4 763.5,823.3 771.5,821.6 779.5,822.4 787.5,819 795.5,815.5 803.5,812.9 811.5,811.3 819.5,818 827.5,821.7 835.5,841.2 843.5,834.6 851.5,824.3 859.5,824.3 867.5,831.3 875.5,831.6 883.5,832.8 891.5,832.3 899.5,827.6 907.5,849.6 915.5,849.7 923.5,848.4 931.5,875.5 939.5,873.1 947.5,886.6 955.5,887.1 963.5,884.5 971.5,876.8 979.5,883.2 987.5,883.2 995.5,868.3 1003.5,869.6 1011.5,870.4 1019.5,874.5 1027.5,875.5 1035.5,873.5 1043.5,874 1051.5,869.3 1059.5,870 1067.5,871.2 1075.5,874.8 1083.5,866.4 1091.5,869 1099.5,867.3 1107.5,868.3 1115.5,866.8 1123.5,865 1131.5,868.3 1139.5,875.8 1147.5,875.8 1155.5,875.9 1163.5,876.7 1171.5,860 1179.5,863.7 1187.5,871.9 1195.5,872.6 1203.5,869.5 1211.5,870.1 1219.5,869.1 1227.5,878.7 1235.5,877.5 1243.5,871.5 1251.5,874.4 1259.5,873.5 1267.5,875.4 1275.5,863.9 1283.5,873.9 1291.5,870.1 1299.5,870 1307.5,872" fill="none" stroke="#1e90ff" stroke-width="2" stroke-linejoin="round"/>
</g>
<text dy="-0.5" stroke-width="0.12" stroke="#000" x="0.2" y="798.5" textLength="30.7" lengthAdjust="spacingAndGlyphs">RSI(14)</text>
<text dy="-0.5" stroke-width="0.12" stroke="#000" x="34.1" y="798.5" textLength="32.6" lengthAdjust="spacingAndGlyphs">37.4253</text>
<text dy="-0.5" stroke-width="0.12" stroke="#000" x="1658" y="796.1" textLength="14.6" lengthAdjust="spacingAndGlyphs">100</text>
<text dy="-0.5" stroke-width="0.12" stroke="#000" x="1658" y="817.8" textLength="9.8" lengthAdjust="spacingAndGlyphs">80</text>
<text dy="-0.5" stroke-width="0.12" stroke="#000" x="1658" y="857.8" textLength="9.8" lengthAdjust="spacingAndGlyphs">50</text>
<text dy="-0.5" stroke-width="0.12" stroke="#000" x="1658" y="905.8" textLength="9.8" lengthAdjust="spacingAndGlyphs">15</text>
<text dy="-0.5" stroke-width="0.12" stroke="#000" x="1658" y="920" textLength="4.9" lengthAdjust="spacingAndGlyphs">0</text>
<rect x="-5" y="924" width="1" height="3" fill="#000" shape-rendering="crispEdges"/>
<text dy="-0.5" stroke-width="0.12" stroke="#000" x="-5.8" y="936" font-size="9.6" textLength="54.6" lengthAdjust="spacingAndGlyphs">19 May 2022</text>
<rect x="59" y="924" width="1" height="3" fill="#000" shape-rendering="crispEdges"/>
<text dy="-0.5" stroke-width="0.12" stroke="#000" x="58.2" y="936" font-size="9.6" textLength="57.6" lengthAdjust="spacingAndGlyphs">23 May 00:00</text>
<rect x="123" y="924" width="1" height="3" fill="#000" shape-rendering="crispEdges"/>
<text dy="-0.5" stroke-width="0.12" stroke="#000" x="122.2" y="936" font-size="9.6" textLength="57.6" lengthAdjust="spacingAndGlyphs">24 May 08:00</text>
<rect x="187" y="924" width="1" height="3" fill="#000" shape-rendering="crispEdges"/>
<text dy="-0.5" stroke-width="0.12" stroke="#000" x="186.2" y="936" font-size="9.6" textLength="57.6" lengthAdjust="spacingAndGlyphs">25 May 16:00</text>
<rect x="251" y="924" width="1" height="3" fill="#000" shape-rendering="crispEdges"/>
<text dy="-0.5" stroke-width="0.12" stroke="#000" x="250.2" y="936" font-size="9.6" textLength="57.6" lengthAdjust="spacingAndGlyphs">27 May 00:00</text>
<rect x="315" y="924" width="1" height="3" fill="#000" shape-rendering="crispEdges"/>
<text dy="-0.5" stroke-width="0.12" stroke="#000" x="314.2" y="936" font-size="9.6" textLength="57.6" lengthAdjust="spacingAndGlyphs">30 May 08:00</text>
<rect x="379" y="924" width="1" height="3" fill="#000" shape-rendering="crispEdges"/>
<text dy="-0.5" stroke-width="0.12" stroke="#000" x="378.2" y="936" font-size="9.6" textLength="57.6" lengthAdjust="spacingAndGlyphs">31 May 16:00</text>
<rect x="443" y="924" width="1" height="3" fill="#000" shape-rendering="crispEdges"/>
<text dy="-0.5" stroke-width="0.12" stroke="#000" x="442.2" y="936" font-size="9.6" textLength="47.6" lengthAdjust="spacingAndGlyphs">2 Jun 00:00</text>
<rect x="507" y="924" width="1" height="3" fill="#000" shape-rendering="crispEdges"/>
<text dy="-0.5" stroke-width="0.12" stroke="#000" x="506.2" y="936" font-size="9.6" textLength="47.6" lengthAdjust="spacingAndGlyphs">3 Jun 08:00</text>
<rect x="571" y="924" width="1" height="3" fill="#000" shape-rendering="crispEdges"/>
<text dy="-0.5" stroke-width="0.12" stroke="#000" x="570.2" y="936" font-size="9.6" textLength="47.6" lengthAdjust="spacingAndGlyphs">6 Jun 16:00</text>
<rect x="635" y="924" width="1" height="3" fill="#000" shape-rendering="crispEdges"/>
<text dy="-0.5" stroke-width="0.12" stroke="#000" x="634.2" y="936" font-size="9.6" textLength="47.6" lengthAdjust="spacingAndGlyphs">8 Jun 00:00</text>
<rect x="699" y="924" width="1" height="3" fill="#000" shape-rendering="crispEdges"/>
<text dy="-0.5" stroke-width="0.12" stroke="#000" x="698.2" y="936" font-size="9.6" textLength="47.6" lengthAdjust="spacingAndGlyphs">9 Jun 08:00</text>
<rect x="763" y="924" width="1" height="3" fill="#000" shape-rendering="crispEdges"/>
<text dy="-0.5" stroke-width="0.12" stroke="#000" x="762.2" y="936" font-size="9.6" textLength="52" lengthAdjust="spacingAndGlyphs">10 Jun 16:00</text>
<rect x="827" y="924" width="1" height="3" fill="#000" shape-rendering="crispEdges"/>
<text dy="-0.5" stroke-width="0.12" stroke="#000" x="826.2" y="936" font-size="9.6" textLength="52" lengthAdjust="spacingAndGlyphs">14 Jun 00:00</text>
<rect x="891" y="924" width="1" height="3" fill="#000" shape-rendering="crispEdges"/>
<text dy="-0.5" stroke-width="0.12" stroke="#000" x="890.2" y="936" font-size="9.6" textLength="52" lengthAdjust="spacingAndGlyphs">15 Jun 08:00</text>
<rect x="955" y="924" width="1" height="3" fill="#000" shape-rendering="crispEdges"/>
<text dy="-0.5" stroke-width="0.12" stroke="#000" x="954.2" y="936" font-size="9.6" textLength="52" lengthAdjust="spacingAndGlyphs">16 Jun 16:00</text>
<rect x="1019" y="924" width="1" height="3" fill="#000" shape-rendering="crispEdges"/>
<text dy="-0.5" stroke-width="0.12" stroke="#000" x="1018.2" y="936" font-size="9.6" textLength="52" lengthAdjust="spacingAndGlyphs">20 Jun 00:00</text>
<rect x="1083" y="924" width="1" height="3" fill="#000" shape-rendering="crispEdges"/>
<text dy="-0.5" stroke-width="0.12" stroke="#000" x="1082.2" y="936" font-size="9.6" textLength="52" lengthAdjust="spacingAndGlyphs">21 Jun 08:00</text>
<rect x="1147" y="924" width="1" height="3" fill="#000" shape-rendering="crispEdges"/>
<text dy="-0.5" stroke-width="0.12" stroke="#000" x="1146.2" y="936" font-size="9.6" textLength="52" lengthAdjust="spacingAndGlyphs">22 Jun 16:00</text>
<rect x="1211" y="924" width="1" height="3" fill="#000" shape-rendering="crispEdges"/>
<text dy="-0.5" stroke-width="0.12" stroke="#000" x="1210.2" y="936" font-size="9.6" textLength="52" lengthAdjust="spacingAndGlyphs">24 Jun 00:00</text>
<rect x="1275" y="924" width="1" height="3" fill="#000" shape-rendering="crispEdges"/>
<text dy="-0.5" stroke-width="0.12" stroke="#000" x="1274.2" y="936" font-size="9.6" textLength="52" lengthAdjust="spacingAndGlyphs">27 Jun 08:00</text>
</svg>
<svg width="1701" height="22" viewBox="0 0 1701 22" style="position:absolute;left:0;top:0" font-family="'Liberation Sans','Noto Sans CJK SC',sans-serif">
<defs><clipPath id="ct"><rect x="0" y="0" width="1701" height="17.4"/></clipPath><linearGradient id="gold" x1="0" y1="0" x2="1" y2="1"><stop offset="0" stop-color="#f7dc6f"/><stop offset="1" stop-color="#b8860b"/></linearGradient><linearGradient id="grn" x1="0" y1="0" x2="0" y2="1"><stop offset="0" stop-color="#4be04b"/><stop offset="1" stop-color="#0a9a0a"/></linearGradient><linearGradient id="redg" x1="0" y1="0" x2="0" y2="1"><stop offset="0" stop-color="#e8502f"/><stop offset="1" stop-color="#d42a12"/></linearGradient></defs>
<rect x="0" y="0" width="1701" height="17" fill="#f0f0f0"/>
<rect x="0" y="17" width="1701" height="1" fill="#f7f7f7"/>
<rect x="0" y="18" width="1701" height="1" fill="#b6b6b6"/>
<rect x="0" y="19" width="1701" height="1" fill="#6a6a6a"/>
<rect x="0" y="20" width="1701" height="2" fill="#fff"/>
<g clip-path="url(#ct)">
<rect x="290" y="0" width="24" height="16" fill="#f9f9f9"/>
<rect x="441" y="0" width="25" height="16" fill="#f9f9f9"/>
<rect x="470" y="0" width="24" height="16" fill="#f9f9f9"/>
<rect x="630" y="0" width="24" height="16" fill="#f9f9f9"/>
<rect x="1076.5" y="0" width="24.5" height="16" fill="#f9f9f9"/>
<circle cx="-2" cy="3.6" r="5.6" fill="#d4e6f8" stroke="#6d9bd3" stroke-width="1.2"/>
<line x1="2.6" y1="9.4" x2="6.6" y2="14" stroke="#c9a227" stroke-width="2.6" stroke-linecap="round"/>
<rect x="14.8" y="0" width="1" height="15.6" fill="#a6a6a6"/>
<path d="M25.5 -3h8l3 3v11h-11z" fill="#fff" stroke="#8a8a8a" stroke-width="1"/>
<path d="M27.5 3h6M27.5 5.5h6M27.5 8h4" stroke="#9a9a9a" stroke-width="1"/>
<path d="M33.3 4.2h3.4v4.1h4.1v3.4h-4.1v4.1h-3.4v-4.1h-4.1v-3.4h4.1z" fill="url(#grn)" stroke="#0b8a0b" stroke-width="0.9"/>
<text x="44" y="9.6" font-size="12" textLength="36.5" lengthAdjust="spacingAndGlyphs" fill="#000">新订单</text>
<polygon points="92,7.5 99.5,-2 108,5.5 101,14" fill="url(#gold)" stroke="#a67c0a" stroke-width="0.8"/>
<path d="M93.5 9.5L101.5 15.2L108 7" fill="none" stroke="#8f6a08" stroke-width="1"/>
<rect x="122" y="-3" width="11" height="10.5" fill="#2f8fe9" stroke="#1f6fc0" stroke-width="0.6"/>
<path d="M124 1h7M124 4h7" stroke="#dff" stroke-width="1"/>
<g fill="#eef3fb" stroke="#7f9dd3" stroke-width="1.8"><circle cx="124.2" cy="11" r="2.9"/><circle cx="128.6" cy="9.4" r="3.3"/><circle cx="132.6" cy="11.2" r="2.7"/><rect x="124" y="11" width="9" height="2.9"/></g><g fill="#eef3fb"><circle cx="124.2" cy="11" r="2.9"/><circle cx="128.6" cy="9.4" r="3.3"/><circle cx="132.6" cy="11.2" r="2.7"/><rect x="124" y="10.5" width="9" height="3.4"/></g>
<circle cx="156" cy="5.5" r="3" fill="none" stroke="#4f74d0" stroke-width="1"/>
<circle cx="156" cy="5.5" r="5.6" fill="none" stroke="#6a8ad6" stroke-width="1"/>
<circle cx="156" cy="5.5" r="8.2" fill="none" stroke="#8fa8e0" stroke-width="1"/>
<path d="M156 5.8L156 14A8.2 8.2 0 0 0 163.4 2.2Z" fill="#57b857" opacity="0.5"/>
<circle cx="156" cy="5.5" r="1.7" fill="#2a55c8"/>
<line x1="156" y1="6" x2="156" y2="14" stroke="#2ca02c" stroke-width="1.4"/>
<polygon points="176,3.5 191.5,3.5 187,12 181.5,13.5" fill="#f6cf3a" stroke="#d2a410" stroke-width="0.6"/>
<ellipse cx="183.5" cy="2.2" rx="8.2" ry="3.2" fill="#58aee6" stroke="#3b8fd0" stroke-width="0.6"/>
<ellipse cx="184" cy="-0.5" rx="4.5" ry="3" fill="#4aa0de"/>
<circle cx="188.2" cy="9.6" r="4.1" fill="#d9230c"/>
<rect x="186.7" y="8.1" width="3" height="3" fill="#fff"/>
<text x="197" y="9.6" font-size="12" textLength="46.5" lengthAdjust="spacingAndGlyphs" fill="#000">自动交易</text>
<rect x="251.0" y="0" width="1" height="17" fill="#a6a6a6"/>
<path d="M254.6 0.5h3.4M254.6 2.5h3.4M254.6 4.5h3.4M254.6 6.5h3.4M254.6 8.5h3.4M254.6 10.5h3.4M254.6 12.5h3.4M254.6 14.5h3.4" stroke="#a8a8a8" stroke-width="0.9"/>
<path d="M269 -1V13.5 M266.8 11.5H280" stroke="#555" stroke-width="1.2" fill="none"/>
<polygon points="281.2,11.5 278.7,9.9 278.7,13.1" fill="#555"/>
<path d="M276 1V9 M276 2h2.4 M273.6 8H276" stroke="#1f9a3a" stroke-width="1.3" fill="none"/>
<rect x="288.8" y="0" width="1" height="15.6" fill="#a6a6a6"/>
<path d="M297.5 -1V13.5 M295.3 11.5H308.5" stroke="#555" stroke-width="1.2" fill="none"/>
<polygon points="309.7,11.5 307.2,9.9 307.2,13.1" fill="#555"/>
<line x1="303.5" y1="-2" x2="303.5" y2="10" stroke="#0b7a2a" stroke-width="1"/>
<rect x="301.2" y="-3" width="4.8" height="10.8" fill="#2fd24a" stroke="#0b7a2a" stroke-width="0.9"/>
<path d="M325 -1V13.5 M322.8 11.5H336" stroke="#555" stroke-width="1.2" fill="none"/>
<polygon points="337.2,11.5 334.7,9.9 334.7,13.1" fill="#555"/>
<path d="M324.5 9.5C327 4 330 2.5 332 3.5S335.5 6.5 336.5 7.5" stroke="#1f9a3a" stroke-width="1.2" fill="none"/>
<rect x="345.8" y="0" width="1" height="15.6" fill="#a6a6a6"/>
<line x1="365.2" y1="8" x2="369.6" y2="12.4" stroke="#caa324" stroke-width="3" stroke-linecap="round"/>
<circle cx="361" cy="3.6" r="5.4" fill="#d9ebfb" stroke="#3f82d2" stroke-width="1.3"/>
<path d="M358 3.6h6 M361 0.6v6" stroke="#2f6fc6" stroke-width="1.5"/>
<line x1="393.2" y1="8" x2="397.6" y2="12.4" stroke="#caa324" stroke-width="3" stroke-linecap="round"/>
<circle cx="389" cy="3.6" r="5.4" fill="#d9ebfb" stroke="#3f82d2" stroke-width="1.3"/>
<path d="M386 3.6h6" stroke="#2f6fc6" stroke-width="1.5"/>
<rect x="411" y="-1.5" width="7.6" height="7" fill="#3a9f2c"/>
<rect x="412.5" y="1.2000000000000002" width="4.6" height="2.8" fill="none" stroke="#e8f4ff" stroke-width="0.9"/>
<rect x="419.6" y="-1.5" width="7.6" height="7" fill="#2f5fd2"/>
<rect x="421.1" y="1.2000000000000002" width="4.6" height="2.8" fill="none" stroke="#e8f4ff" stroke-width="0.9"/>
<rect x="411" y="6.8" width="7.6" height="7" fill="#2f5fd2"/>
<rect x="412.5" y="9.5" width="4.6" height="2.8" fill="none" stroke="#e8f4ff" stroke-width="0.9"/>
<rect x="419.6" y="6.8" width="7.6" height="7" fill="#3a9f2c"/>
<rect x="421.1" y="9.5" width="4.6" height="2.8" fill="none" stroke="#e8f4ff" stroke-width="0.9"/>
<rect x="435.9" y="0" width="1" height="15.6" fill="#a6a6a6"/>
<rect x="440.5" y="0" width="1" height="15.6" fill="#a6a6a6"/>
<path d="M449.8 -1V14 M447.6 12H460.8" stroke="#555" stroke-width="1.2" fill="none"/>
<polygon points="462.0,12 459.5,10.4 459.5,13.6" fill="#555"/>
<polygon points="454.2,2 454.2,9 459.4,5.5" fill="#d8f5d8" stroke="#22a022" stroke-width="1.1"/>
<rect x="468.8" y="0" width="1" height="15.6" fill="#a6a6a6"/>
<path d="M477.5 -1V14 M475.3 12H488.5" stroke="#555" stroke-width="1.2" fill="none"/>
<polygon points="489.7,12 487.2,10.4 487.2,13.6" fill="#555"/>
<line x1="483.5" y1="0" x2="483.5" y2="10" stroke="#2a6acb" stroke-width="1.2"/>
<path d="M489.5 5.5h-4" stroke="#d03a10" stroke-width="1.2"/><polygon points="484.6,5.5 487.6,3.4 487.6,7.6" fill="#d03a10"/>
<rect x="497.8" y="0" width="1" height="15.6" fill="#a6a6a6"/>
<path d="M508.5 -3h8l3 3v11h-11z" fill="#fff" stroke="#8a8a8a" stroke-width="1"/>
<path d="M510.5 3h6M510.5 5.5h6M510.5 8h4" stroke="#9a9a9a" stroke-width="1"/>
<path d="M516.3 4.2h3.4v4.1h4.1v3.4h-4.1v4.1h-3.4v-4.1h-4.1v-3.4h4.1z" fill="url(#grn)" stroke="#0b8a0b" stroke-width="0.9"/>
<polygon points="529.7,4.5 535.3,4.5 532.5,7.8" fill="#000"/>
<circle cx="554" cy="5.5" r="6.6" fill="#fff" stroke="#2a6fd6" stroke-width="2.2"/>
<path d="M554 1.5V6H557.2" stroke="#444" stroke-width="1.1" fill="none"/>
<polygon points="568.6,4.5 574.1999999999999,4.5 571.4,7.8" fill="#000"/>
<rect x="585.5" y="-2" width="15.5" height="14" fill="#fff" stroke="#3a78d0" stroke-width="1.1"/>
<rect x="585.5" y="-2" width="15.5" height="3" fill="#3a78d0"/>
<path d="M587.5 5l3-1.2 3 .8 3-1.6 2.5-.4" stroke="#b03a1a" stroke-width="1.1" fill="none"/>
<path d="M587.5 10l3-1.4 2.5 .9 3-2 2.5 1.6" stroke="#2a9a2a" stroke-width="1.1" fill="none"/>
<line x1="586" y1="6.6" x2="600.5" y2="6.6" stroke="#9bbbe6" stroke-width="0.8"/>
<polygon points="607.7,4.5 613.3,4.5 610.5,7.8" fill="#000"/>
<rect x="618.5" y="0" width="1" height="17" fill="#a6a6a6"/>
<path d="M622.4 0.5h3.4M622.4 2.5h3.4M622.4 4.5h3.4M622.4 6.5h3.4M622.4 8.5h3.4M622.4 10.5h3.4M622.4 12.5h3.4M622.4 14.5h3.4" stroke="#a8a8a8" stroke-width="0.9"/>
<rect x="628.5" y="0" width="1" height="15.6" fill="#a6a6a6"/>
<polygon points="637.2,-0.5 637.2,11 640.1,8.4 642.4,13.2 644.4,12.2 642.2,7.6 646.2,7.4" fill="#2a2a2a"/>
<path d="M661.8 6.4H677 M669.3 -1V14" stroke="#444" stroke-width="1.1"/>
<rect x="686.0" y="0" width="1" height="15.6" fill="#a6a6a6"/>
<path d="M703.4 -1V13.2 M726 6.4H738.4 M754 13.2L766.2 0.8" stroke="#555" stroke-width="1.2" fill="none"/>
<path d="M779.5 9.5L791 -1 M782 12.5L794 1.5 M780.5 6L792.5 3.4 M781.5 9.5L794 7 M784.5 3v9 M788 0v9" stroke="#555" stroke-width="1" fill="none"/>
<text x="789.5" y="15.6" font-size="6.5" font-weight="bold" fill="#333">E</text>
<path d="M809 2.2H822 M809 6.4H822 M809 10.6H818" stroke="#555" stroke-width="1.1" stroke-dasharray="1.2 1.1" fill="none"/>
<text x="818.6" y="15.6" font-size="6.5" font-weight="bold" fill="#333">F</text>
<text x="839.6" y="11.2" font-size="12.5" fill="#555" stroke="#555" stroke-width="0.3">A</text>
<rect x="866" y="0.3" width="12" height="12" fill="none" stroke="#555" stroke-width="1" stroke-dasharray="1.1 1.1"/>
<text x="868.3" y="10.6" font-size="11" fill="#444" stroke="#444" stroke-width="0.3">T</text>
<path d="M896 0.5l3 3.2h-6z M896 4.2l2.2 2.2-2.2 2.2-2.2-2.2z" fill="#333"/>
<path d="M903 13l-3-3.2h6z M903 9.4l2.2-2.2-2.2-2.2-2.2 2.2z" fill="#333" transform="translate(0,-0.5)"/>
<path d="M897.5 4l4.5 4" stroke="#333" stroke-width="1.2"/>
<polygon points="913.6,5.0 919.1999999999999,5.0 916.4,8.3" fill="#000"/>
<rect x="924.3" y="0" width="1" height="17" fill="#a6a6a6"/>
<path d="M928 0.5h3.4M928 2.5h3.4M928 4.5h3.4M928 6.5h3.4M928 8.5h3.4M928 10.5h3.4M928 12.5h3.4M928 14.5h3.4" stroke="#a8a8a8" stroke-width="0.9"/>
<text x="940.3" y="9.9" font-size="9.3" fill="#3c3c3c" textLength="13.2" lengthAdjust="spacingAndGlyphs">M1</text>
<text x="968.5" y="9.9" font-size="9.3" fill="#3c3c3c" textLength="13.2" lengthAdjust="spacingAndGlyphs">M5</text>
<text x="994.5" y="9.9" font-size="9.3" fill="#3c3c3c" textLength="18.2" lengthAdjust="spacingAndGlyphs">M15</text>
<text x="1022.5" y="9.9" font-size="9.3" fill="#3c3c3c" textLength="18.2" lengthAdjust="spacingAndGlyphs">M30</text>
<text x="1053.5" y="9.9" font-size="9.3" fill="#3c3c3c" textLength="12" lengthAdjust="spacingAndGlyphs">H1</text>
<text x="1080.5" y="9.9" font-size="9.3" fill="#3c3c3c" textLength="12.4" lengthAdjust="spacingAndGlyphs">H4</text>
<text x="1109.5" y="9.9" font-size="9.3" fill="#3c3c3c" textLength="12" lengthAdjust="spacingAndGlyphs">D1</text>
<text x="1137" y="9.9" font-size="9.3" fill="#3c3c3c" textLength="14" lengthAdjust="spacingAndGlyphs">W1</text>
<text x="1163.5" y="9.9" font-size="9.3" fill="#3c3c3c" textLength="15" lengthAdjust="spacingAndGlyphs">MN</text>
<rect x="1075.3" y="0" width="1" height="15.6" fill="#a6a6a6"/>
<rect x="1185.7" y="0" width="1" height="15.6" fill="#a6a6a6"/>
<line x1="1654" y1="6" x2="1649" y2="11" stroke="#2a5fd0" stroke-width="2.2" stroke-linecap="round"/>
<circle cx="1656.7" cy="3.3" r="3.7" fill="#f4f6fb" stroke="#2a5fd0" stroke-width="1.3"/>
<path d="M1673.5 8c0-6 12-6 12 0c0 3.4-4.4 4.6-8 4l-1.6 2.4v-2.9c-1.5-.7-2.4-1.9-2.4-3.500z" fill="#e9e9f0" stroke="#b9b9b9" stroke-width="0.9"/>
<circle cx="1687.3" cy="3.6" r="8.3" fill="url(#redg)"/>
<text x="1687.3" y="8.2" font-family="'Liberation Serif',serif" font-size="12.5" font-weight="bold" fill="#fff" text-anchor="middle">1</text>
</g>
</svg>
<div style="position:absolute;left:1700px;top:19px;width:1px;height:921px;background:#e3e3e3"></div>
</body></html>
